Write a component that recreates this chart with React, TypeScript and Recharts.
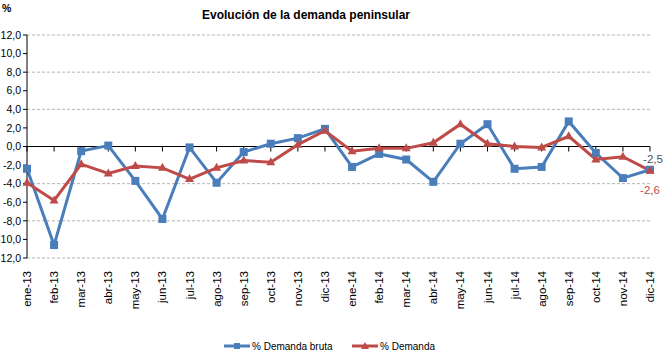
import { LineChart, Line, XAxis, YAxis, CartesianGrid, ReferenceLine, Legend, LabelList } from 'recharts';

const meses = [
  'ene-13', 'feb-13', 'mar-13', 'abr-13', 'may-13', 'jun-13', 'jul-13', 'ago-13', 'sep-13', 'oct-13', 'nov-13', 'dic-13',
  'ene-14', 'feb-14', 'mar-14', 'abr-14', 'may-14', 'jun-14', 'jul-14', 'ago-14', 'sep-14', 'oct-14', 'nov-14', 'dic-14'
];

const demandaBruta = [
  -2.4, -10.6, -0.5, 0.1, -3.7, -7.8, -0.1, -3.9, -0.6, 0.3, 0.9, 1.9,
  -2.2, -0.8, -1.4, -3.8, 0.3, 2.4, -2.4, -2.2, 2.7, -0.7, -3.4, -2.5
];

const demanda = [
  -3.9, -5.8, -1.9, -2.9, -2.1, -2.3, -3.5, -2.3, -1.5, -1.7, 0.2, 1.7,
  -0.5, -0.2, -0.2, 0.4, 2.4, 0.3, 0.0, -0.1, 1.1, -1.4, -1.1, -2.6
];

const yTicks = [-12, -10, -8, -6, -4, -2, 0, 2, 4, 6, 8, 10, 12];

const BLUE = '#4a7ebb';
const RED = '#be4b48';
const FONT = '"Liberation Sans", Arial, sans-serif';

const data = meses.map((mes, i) => ({ mes, bruta: demandaBruta[i], demanda: demanda[i] }));

const fmt = (v: number) => v.toFixed(1).replace('.', ',');

const SquareDot = (props: any) => {
  const { cx, cy, index } = props;
  if (cx == null || cy == null) return <g key={`s-${index}`} />;
  return <rect key={`s-${index}`} x={cx - 4} y={cy - 4} width={8} height={8} fill={BLUE} />;
};

const TriangleDot = (props: any) => {
  const { cx, cy, index } = props;
  if (cx == null || cy == null) return <g key={`t-${index}`} />;
  return <polygon key={`t-${index}`} points={`${cx},${cy - 5} ${cx + 4.5},${cy + 3} ${cx - 4.5},${cy + 3}`} fill={RED} />;
};

const MonthTick = (props: any) => {
  const { x, y, payload } = props;
  return (
    <text
      x={0}
      y={0}
      dy="0.35em"
      transform={`translate(${x},${y + 5}) rotate(-90)`}
      textAnchor="end"
      fontSize={11.5}
      fontFamily={FONT}
      fill="#000"
    >
      {payload.value}
    </text>
  );
};

// zero line with category tick marks, like the Excel horizontal axis crossing at 0
const ZeroAxis = (props: any) => {
  const { x1, x2, y1 } = props;
  const n = meses.length;
  const step = (x2 - x1) / (n - 1);
  return (
    <g>
      <line x1={x1} x2={x2} y1={y1} y2={y1} stroke="#000" strokeWidth={1} />
      {meses.map((m, i) => (
        <line key={m} x1={x1 + i * step} x2={x1 + i * step} y1={y1} y2={y1 + 5} stroke="#000" strokeWidth={1} />
      ))}
    </g>
  );
};

const lastLabel = (color: string, dx: number, dy: number) => (props: any) => {
  const { x, y, index, value } = props;
  if (index !== meses.length - 1) return null;
  return (
    <text x={x + dx} y={y + dy} dy="0.35em" textAnchor="middle" fontSize={11.5} fontFamily={FONT} fill={color}>
      {fmt(value)}
    </text>
  );
};

const LegendBox = () => (
  <svg width={663} height={20} style={{ display: 'block' }}>
    <line x1={224} x2={250} y1={11} y2={11} stroke={BLUE} strokeWidth={3} />
    <rect x={234} y={8} width={6} height={6} fill={BLUE} />
    <text x={252} y={11} dy="0.35em" fontSize={10} fontFamily={FONT} fill="#000">% Demanda bruta</text>
    <line x1={352} x2={378} y1={11} y2={11} stroke={RED} strokeWidth={3} />
    <polygon points="365,7 369,14 361,14" fill={RED} />
    <text x={380} y={11} dy="0.35em" fontSize={10} fontFamily={FONT} fill="#000">% Demanda</text>
  </svg>
);

export default function App() {
  return (
    <div style={{ position: 'absolute', left: 0, top: 0, width: 663, height: 355, background: '#fff' }}>
      <LineChart width={663} height={355} data={data} margin={{ top: 35, right: 13, bottom: 0, left: 0 }}>
        <text x={306} y={15} dy="0.35em" textAnchor="middle" fontSize={12} fontWeight="bold" fontFamily={FONT} fill="#000">
          Evolución de la demanda peninsular
        </text>
        <text x={2} y={8} dy="0.35em" fontSize={10.5} fontWeight="bold" fontFamily={FONT} fill="#000">%</text>
        <CartesianGrid horizontal vertical={false} stroke="#b4b4b4" strokeDasharray="3 2" />
        <XAxis
          dataKey="mes"
          interval={0}
          axisLine={false}
          tickLine={false}
          height={77}
          tick={<MonthTick />}
        />
        <YAxis
          domain={[-12, 12]}
          ticks={yTicks}
          tickFormatter={fmt}
          width={27}
          tickSize={4}
          tickMargin={2}
          axisLine={{ stroke: '#000' }}
          tickLine={{ stroke: '#000' }}
          tick={{ fill: '#000', fontSize: 10.5, fontFamily: FONT }}
          allowDataOverflow
        />
        <ReferenceLine y={0} shape={<ZeroAxis />} />
        <Legend verticalAlign="bottom" height={20} content={<LegendBox />} />
        <Line
          type="linear"
          dataKey="bruta"
          name="% Demanda bruta"
          stroke={BLUE}
          strokeWidth={3}
          dot={SquareDot}
          activeDot={false}
          isAnimationActive={false}
        >
          <LabelList dataKey="bruta" content={lastLabel('#4a5060', 3, -11)} />
        </Line>
        <Line
          type="linear"
          dataKey="demanda"
          name="% Demanda"
          stroke={RED}
          strokeWidth={3}
          dot={TriangleDot}
          activeDot={false}
          isAnimationActive={false}
        >
          <LabelList dataKey="demanda" content={lastLabel(RED, 0, 19)} />
        </Line>
      </LineChart>
    </div>
  );
}
